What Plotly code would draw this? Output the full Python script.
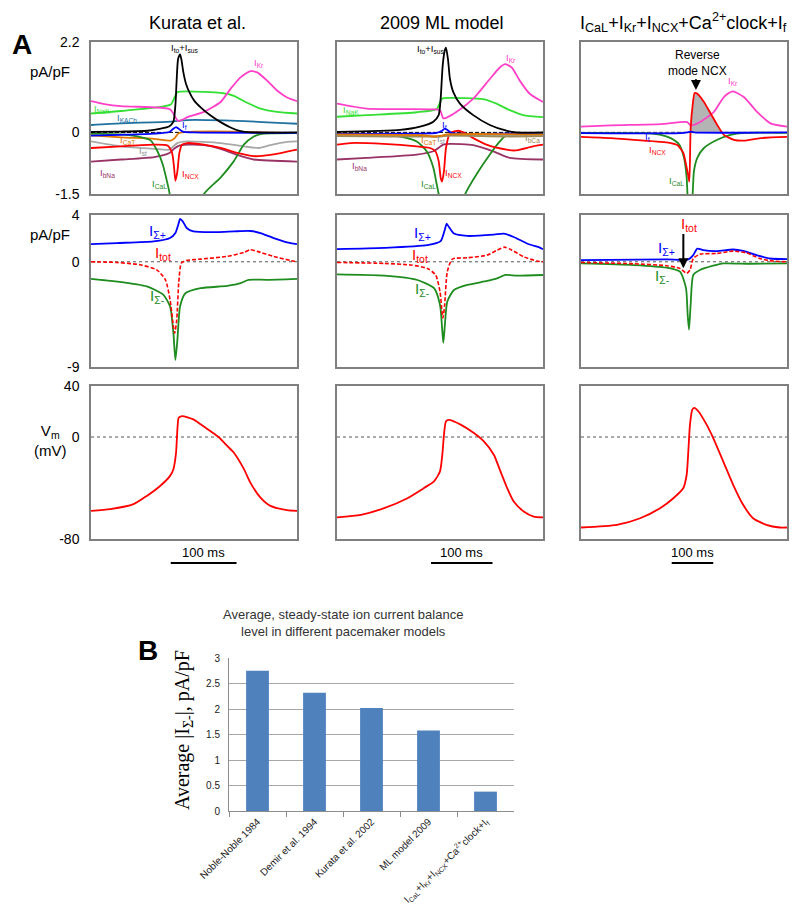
import numpy as np
import plotly.graph_objects as go

# ---------------- Panel A, row 1 : individual currents (pA/pF) ----------------
# Kurata et al.
kur_ito_t = [0, 45, 85, 105, 118, 124, 127, 129, 131, 134, 136, 139, 143, 148, 155, 165, 180, 195, 210, 225, 240, 310]
kur_ito_v = [0.01, 0.02, 0.04, 0.09, 0.15, 0.26, 0.66, 1.30, 1.78, 1.90, 1.78, 1.46, 1.18, 0.98, 0.78, 0.61, 0.41, 0.25, 0.12, 0.03, 0.0, 0.0]
kur_kr_t = [0, 20, 45, 95, 118, 124, 128, 131, 138, 145, 170, 195, 210, 225, 240, 250, 265, 280, 295, 310]
kur_kr_v = [0.76, 0.69, 0.64, 0.61, 0.57, 0.46, 0.34, 0.28, 0.31, 0.37, 0.50, 0.74, 1.06, 1.34, 1.49, 1.46, 1.26, 1.02, 0.85, 0.76]
kur_nak_t = [0, 45, 95, 120, 126, 130, 145, 195, 215, 235, 255, 280, 310]
kur_nak_v = [0.46, 0.52, 0.60, 0.68, 0.86, 0.98, 1.00, 0.96, 0.89, 0.72, 0.58, 0.50, 0.46]
kur_kach_t = [0, 45, 120, 145, 220, 310]
kur_kach_v = [0.18, 0.22, 0.26, 0.30, 0.28, 0.21]
kur_if_t = [0, 45, 95, 118, 124, 128, 131, 138, 155, 310]
kur_if_v = [-0.08, -0.06, -0.03, 0.01, 0.09, 0.13, 0.10, 0.02, 0.0, -0.01]
kur_cat_t = [0, 45, 95, 120, 126, 132, 310]
kur_cat_v = [-0.07, -0.12, -0.16, -0.20, -0.14, -0.02, -0.02]
kur_st_t = [0, 45, 95, 118, 124, 130, 145, 195, 230, 253, 270, 295, 310]
kur_st_v = [-0.22, -0.34, -0.40, -0.42, -0.34, -0.26, -0.22, -0.26, -0.34, -0.38, -0.31, -0.23, -0.22]
kur_ncx_t = [0, 45, 95, 115, 122, 125, 127, 130, 133, 137, 145, 170, 195, 220, 245, 270, 310]
kur_ncx_v = [-0.38, -0.34, -0.30, -0.32, -0.50, -0.85, -1.18, -0.95, -0.50, -0.30, -0.26, -0.30, -0.38, -0.50, -0.58, -0.55, -0.42]
kur_bna_t = [0, 45, 95, 118, 125, 132, 145, 170, 195, 220, 245, 310]
kur_bna_v = [-0.71, -0.66, -0.60, -0.50, -0.40, -0.33, -0.30, -0.31, -0.40, -0.55, -0.66, -0.71]
kur_cal_t = [0, 45, 70, 90, 100, 108, 113, 118, 125, 145, 160, 170, 195, 215, 230, 245, 255, 310]
kur_cal_v = [-0.03, -0.05, -0.10, -0.20, -0.46, -0.78, -1.10, -1.46, -2.5, -3.0, -2.2, -1.5, -1.10, -0.70, -0.30, -0.10, -0.04, -0.02]

# 2009 ML model
ml_ito_t = [0, 95, 125, 145, 153, 156, 159, 162, 164, 167, 170, 175, 185, 205, 230, 255, 270, 310]
ml_ito_v = [0.01, 0.06, 0.14, 0.26, 0.42, 0.82, 1.62, 1.98, 2.06, 1.78, 1.30, 0.98, 0.70, 0.42, 0.18, 0.04, 0.0, 0.0]
ml_kr_t = [0, 45, 145, 155, 160, 165, 180, 205, 230, 245, 253, 263, 275, 290, 310]
ml_kr_v = [0.70, 0.58, 0.56, 0.54, 0.34, 0.36, 0.50, 0.82, 1.30, 1.58, 1.66, 1.58, 1.26, 0.94, 0.74]
ml_nak_t = [0, 45, 120, 150, 158, 170, 220, 240, 260, 280, 310]
ml_nak_v = [0.38, 0.42, 0.49, 0.57, 0.82, 0.84, 0.81, 0.70, 0.54, 0.42, 0.37]
ml_if_t = [0, 100, 150, 158, 162, 166, 172, 310]
ml_if_v = [-0.04, -0.03, -0.01, 0.04, 0.09, 0.06, -0.01, -0.01]
ml_cat_t = [0, 130, 145, 158, 165, 310]
ml_cat_v = [-0.05, -0.07, -0.10, -0.08, -0.05, -0.05]
ml_st_t = [0, 130, 150, 160, 170, 310]
ml_st_v = [-0.07, -0.08, -0.11, -0.09, -0.07, -0.07]
ml_bca_t = [0, 150, 170, 250, 310]
ml_bca_v = [-0.09, -0.10, -0.08, -0.10, -0.09]
ml_ncx_t = [0, 20, 70, 120, 140, 148, 153, 156, 158, 161, 164, 170, 183, 190, 205, 225, 255, 268, 295, 310]
ml_ncx_v = [-0.30, -0.26, -0.28, -0.34, -0.38, -0.46, -0.70, -1.10, -1.20, -0.94, -0.38, -0.02, 0.04, 0.0, -0.14, -0.30, -0.42, -0.44, -0.34, -0.30]
ml_bna_t = [0, 45, 120, 145, 160, 170, 205, 235, 260, 310]
ml_bna_v = [-0.66, -0.62, -0.54, -0.46, -0.30, -0.28, -0.31, -0.46, -0.62, -0.66]
ml_cal_t = [0, 95, 120, 135, 145, 150, 153, 165, 180, 193, 210, 230, 245, 255, 310]
ml_cal_v = [-0.06, -0.10, -0.22, -0.46, -0.86, -1.26, -1.5, -2.5, -2.2, -1.50, -1.02, -0.54, -0.22, -0.07, -0.03]

# ICaL+IKr+INCX+Ca2+clock+If model
cl_kr_t = [0, 45, 120, 160, 165, 180, 200, 215, 228, 245, 265, 285, 310]
cl_kr_v = [0.14, 0.17, 0.20, 0.25, 0.17, 0.26, 0.50, 0.86, 1.00, 0.86, 0.50, 0.22, 0.14]
cl_ncx_t = [0, 45, 95, 135, 145, 154, 158, 161, 163, 165, 168, 171, 175, 185, 195, 205, 215, 230, 245, 270, 310]
cl_ncx_v = [-0.11, -0.14, -0.20, -0.26, -0.31, -0.50, -0.78, -1.02, -1.20, 0.10, 0.66, 0.96, 0.94, 0.74, 0.46, 0.18, -0.06, -0.18, -0.20, -0.14, -0.11]
cl_cal_t = [0, 95, 120, 135, 148, 155, 159, 163, 168, 170, 175, 185, 205, 225, 245, 310]
cl_cal_v = [-0.01, -0.02, -0.06, -0.14, -0.30, -0.62, -1.10, -2.5, -1.5, -0.94, -0.62, -0.38, -0.18, -0.06, -0.01, -0.01]
cl_if_t = [0, 150, 160, 165, 170, 310]
cl_if_v = [-0.02, -0.02, 0.0, 0.02, 0.0, 0.0]

# ---------------- Panel A, row 2 : summed currents (pA/pF) ----------------
kur_sp_t = [0, 39, 94, 119, 127, 132, 134, 138, 144, 154, 190, 215, 240, 255, 275, 295, 310]
kur_sp_v = [1.51, 1.60, 1.74, 2.03, 2.46, 3.31, 3.66, 3.46, 2.89, 2.60, 2.54, 2.60, 2.63, 2.46, 2.03, 1.66, 1.51]
kur_tot_t = [0, 39, 74, 99, 112, 119, 124, 126, 129, 132, 136, 144, 165, 205, 230, 240, 250, 275, 300, 310]
kur_tot_v = [0, -0.06, -0.26, -0.69, -1.54, -3.26, -5.54, -6.1, -4.97, -1.83, -0.11, 0.11, 0.23, 0.46, 0.80, 1.03, 0.89, 0.46, 0.11, 0]
kur_sm_t = [0, 39, 84, 109, 119, 124, 127, 130, 134, 142, 165, 205, 225, 237, 265, 310]
kur_sm_v = [-1.46, -1.69, -2.11, -2.83, -3.83, -6.11, -8.4, -6.69, -3.83, -2.69, -2.26, -2.06, -1.83, -1.54, -1.54, -1.46]

ml_sp_t = [0, 71, 136, 156, 162, 165, 168.5, 176, 196, 236, 251, 266, 286, 306, 310]
ml_sp_v = [1.08, 1.19, 1.42, 1.76, 2.69, 3.25, 2.97, 2.41, 2.21, 2.32, 2.41, 2.12, 1.56, 1.19, 1.08]
ml_tot_t = [0, 71, 111, 136, 148.5, 155, 158, 159.5, 162, 166, 173.5, 196, 226, 241, 252, 263.5, 281, 301, 310]
ml_tot_v = [-0.06, -0.14, -0.28, -0.57, -1.13, -2.55, -4.25, -4.8, -3.68, -0.85, 0.23, 0.34, 0.57, 0.99, 1.25, 0.99, 0.42, 0.06, 0]
ml_sm_t = [0, 71, 121, 146, 155, 158.5, 160, 162, 166, 176, 196, 226, 241, 253.5, 271, 310]
ml_sm_v = [-1.08, -1.19, -1.56, -2.26, -3.68, -5.95, -6.93, -5.66, -3.40, -2.41, -1.98, -1.64, -1.42, -1.13, -1.19, -1.13]

cl_sp_t = [0, 129, 161.5, 169, 175, 184, 204, 229, 244, 264, 284, 310]
cl_sp_v = [0.14, 0.20, 0.20, 0.57, 1.13, 0.99, 0.91, 1.05, 0.93, 0.57, 0.28, 0.23]
cl_tot_t = [0, 79, 129, 149, 159, 164, 169, 179, 204, 229, 249, 269, 289, 310]
cl_tot_v = [-0.06, -0.17, -0.34, -0.57, -0.99, -0.71, 0.28, 0.65, 0.71, 0.91, 0.76, 0.28, 0.06, 0]
cl_sm_t = [0, 79, 129, 149, 158, 160.5, 162.5, 165, 169, 179, 199, 214, 254, 310]
cl_sm_v = [-0.14, -0.28, -0.51, -0.85, -2.26, -4.5, -5.8, -3.68, -1.13, -0.71, -0.34, -0.14, -0.17, -0.14]

# ---------------- Panel A, row 3 : membrane potential (mV) ----------------
kur_vm_t = [0, 29, 64, 84, 104, 119, 124, 128, 130, 132, 137, 154, 165, 180, 192, 205, 215, 230, 240, 255, 270, 295, 310]
kur_vm_v = [-58, -56.6, -52.7, -46.2, -38.4, -30.5, -25.3, -12.3, 6, 15.1, 16.4, 13.8, 10, 4.5, 0, -7, -12.3, -25, -36, -47.5, -54, -57.4, -58]
ml_vm_t = [0, 36, 71, 106, 131, 146, 155, 158.5, 161, 164, 168.5, 186, 206, 221, 236, 246, 256, 266, 281, 296, 310]
ml_vm_v = [-63, -61, -55.8, -48, -40, -34.8, -27, -13.9, 1.8, 12.3, 13.4, 9.7, 3.1, -3.4, -13.9, -27, -40, -50.6, -58.4, -62.4, -63]
cl_vm_t = [0, 54, 89, 119, 139, 154, 159, 161.5, 164, 167.5, 170.5, 176.5, 189, 199, 214, 229, 244, 259, 279, 299, 310]
cl_vm_v = [-71, -68.9, -63.7, -55.8, -48, -40, -29.6, -11.3, 9.7, 21.5, 22.8, 20.2, 9.7, -0.8, -19.1, -37.5, -53.2, -63.7, -68.9, -71, -71]

# 100 ms scale bars (start, end in each column's time units)
scalebar_start = [120, 141.5, 136.5]
scalebar_end = [219, 234, 199]

col_titles = ["Kurata et al.", "2009 ML model",
              "I<sub>CaL</sub>+I<sub>Kr</sub>+I<sub>NCX</sub>+Ca<sup>2+</sup>clock+I<sub>f</sub>"]
row_ranges = [[-1.5, 2.2], [-9, 4], [-80, 40]]
row_ticks = [[-1.5, 0, 2.2], [-9, 0, 4], [-80, 0, 40]]

# ---------------- Panel B : bar chart ----------------
models = ["Noble-Noble 1984", "Demir et al. 1994", "Kurata et al. 2002", "ML model 2009",
          "I<sub>CaL</sub>+I<sub>Kr</sub>+I<sub>NCX</sub>+Ca<sup>2+</sup>clock+I<sub>f</sub>"]
avg_isum_minus = [2.75, 2.32, 2.02, 1.58, 0.38]

# ---------------- colours ----------------
C_BLACK = "#000000"
C_KR = "#ff40c8"
C_NAK = "#33e033"
C_KACH = "#1f72a0"
C_IF = "#0000ff"
C_CAT = "#e07800"
C_ST = "#a8a8a8"
C_NCX = "#ff0000"
C_BNA = "#993366"
C_CAL = "#1e8c1e"
C_BCA = "#9c8a5a"

W, H = 800, 919
colx = [(91, 297), (337, 543), (581, 787)]
rowy = [(42, 194), (215, 367), (386, 539)]
FONT = "Liberation Sans, Arial, sans-serif"

fig = go.Figure()
layout = dict(width=W, height=H, margin=dict(l=0, r=0, t=0, b=0, autoexpand=False),
              paper_bgcolor="white", plot_bgcolor="white", showlegend=False,
              font=dict(family=FONT, color="#000000"))


def axn(r, c):
    return r * 3 + c + 1


def xref(n):
    return "x" if n == 1 else f"x{n}"


def yref(n):
    return "y" if n == 1 else f"y{n}"


for r in range(3):
    for c in range(3):
        n = axn(r, c)
        xk = "xaxis" if n == 1 else f"xaxis{n}"
        yk = "yaxis" if n == 1 else f"yaxis{n}"
        layout[xk] = dict(domain=[colx[c][0] / W, colx[c][1] / W], range=[0, 310],
                          showticklabels=False, showgrid=False, zeroline=False,
                          showline=True, mirror=True, linecolor="#7f7f7f", linewidth=1.5,
                          ticks="", anchor=yref(n), fixedrange=True, automargin=False)
        ya = dict(domain=[1 - rowy[r][1] / H, 1 - rowy[r][0] / H], range=row_ranges[r],
                  showgrid=False, zeroline=False, showline=True, mirror=True,
                  linecolor="#7f7f7f", linewidth=1.5, anchor=xref(n), fixedrange=True,
                  automargin=False)
        if c == 0:
            ya.update(tickvals=row_ticks[r], ticktext=[f"{v:g}" for v in row_ticks[r]],
                      ticks="", tickfont=dict(size=14, family=FONT), ticklabelstandoff=7)
        else:
            ya.update(showticklabels=False, ticks="")
        layout[yk] = ya

layout["xaxis10"] = dict(domain=[229 / W, 514 / W], anchor="y10", type="category",
                         showline=True, linecolor="#8c8c8c", linewidth=1,
                         ticks="outside", tickson="boundaries", ticklen=5, tickcolor="#8c8c8c",
                         tickangle=-45, tickfont=dict(size=10, family=FONT, color="#222"),
                         showgrid=False, fixedrange=True, automargin=False)
layout["yaxis10"] = dict(domain=[1 - 811 / H, 1 - 658 / H], anchor="x10", range=[0, 3],
                         tickvals=[0, 0.5, 1, 1.5, 2, 2.5, 3],
                         ticktext=["0", "0.5", "1", "1.5", "2", "2.5", "3"],
                         showgrid=True, gridcolor="#a6a6a6", gridwidth=1,
                         showline=True, linecolor="#8c8c8c", linewidth=1, zeroline=False,
                         ticks="", tickfont=dict(size=10, family=FONT, color="#222"),
                         ticklabelstandoff=6, fixedrange=True, automargin=False)


def add_line(n, t, v, color, width=1.8, dash="solid", smooth=0.6):
    fig.add_trace(go.Scatter(x=t, y=v, mode="lines", xaxis=xref(n), yaxis=yref(n),
                             line=dict(color=color, width=width, dash=dash,
                                       shape="spline", smoothing=smooth),
                             hoverinfo="skip", showlegend=False))


annotations = []
shapes = []


def lab(n, t, v, text, color, size=9.5, xanchor="center"):
    annotations.append(dict(x=t, y=v, xref=xref(n), yref=yref(n), text=text, showarrow=False,
                            font=dict(size=size, color=color, family=FONT), xanchor=xanchor,
                            yanchor="middle"))


# zero reference lines
for c in range(3):
    shapes.append(dict(type="line", xref=f"{xref(axn(0, c))} domain", x0=0, x1=1,
                       yref=yref(axn(0, c)), y0=0, y1=0, layer="below",
                       line=dict(color="#000000", width=1, dash="4px,2px")))
    for r in (1, 2):
        shapes.append(dict(type="line", xref=f"{xref(axn(r, c))} domain", x0=0, x1=1,
                           yref=yref(axn(r, c)), y0=0, y1=0, layer="below",
                           line=dict(color="#555555", width=1, dash="dot")))

# Row 1, col 1 (Kurata)
n = axn(0, 0)
for t, v, col in [(kur_kach_t, kur_kach_v, C_KACH), (kur_nak_t, kur_nak_v, C_NAK),
                  (kur_kr_t, kur_kr_v, C_KR), (kur_st_t, kur_st_v, C_ST),
                  (kur_bna_t, kur_bna_v, C_BNA), (kur_cat_t, kur_cat_v, C_CAT),
                  (kur_cal_t, kur_cal_v, C_CAL), (kur_ncx_t, kur_ncx_v, C_NCX),
                  (kur_if_t, kur_if_v, C_IF), (kur_ito_t, kur_ito_v, C_BLACK)]:
    add_line(n, t, v, col)
lab(n, 140, 2.06, "I<sub>to</sub>+I<sub>sus</sub>", C_BLACK)
lab(n, 253, 1.70, "I<sub>Kr</sub>", C_KR)
lab(n, 2, 0.57, "I<sub>NaK</sub>", C_NAK, xanchor="left")
lab(n, 36, 0.36, "I<sub>KACh</sub>", C_KACH, xanchor="left")
lab(n, 140, 0.17, "I<sub>f</sub>", C_IF)
lab(n, 40, -0.18, "I<sub>CaT</sub>", C_CAT, xanchor="left")
lab(n, 78, -0.46, "I<sub>st</sub>", "#909090")
lab(n, 10, -0.98, "I<sub>bNa</sub>", C_BNA, xanchor="left")
lab(n, 103, -1.26, "I<sub>CaL</sub>", C_CAL)
lab(n, 150, -1.02, "I<sub>NCX</sub>", C_NCX)

# Row 1, col 2 (ML)
n = axn(0, 1)
for t, v, col in [(ml_nak_t, ml_nak_v, C_NAK), (ml_kr_t, ml_kr_v, C_KR),
                  (ml_bna_t, ml_bna_v, C_BNA), (ml_cal_t, ml_cal_v, C_CAL),
                  (ml_ncx_t, ml_ncx_v, C_NCX), (ml_st_t, ml_st_v, C_ST),
                  (ml_bca_t, ml_bca_v, C_BCA), (ml_if_t, ml_if_v, C_IF),
                  (ml_cat_t, ml_cat_v, C_CAT), (ml_ito_t, ml_ito_v, C_BLACK)]:
    add_line(n, t, v, col)
lab(n, 141, 2.03, "I<sub>to</sub>+I<sub>sus</sub>", C_BLACK)
lab(n, 262, 1.81, "I<sub>Kr</sub>", C_KR)
lab(n, 6, 0.55, "I<sub>NaK</sub>", C_NAK, xanchor="left")
lab(n, 162, 0.18, "I<sub>f</sub>", C_IF)
lab(n, 138, -0.19, "I<sub>CaT</sub>", C_CAT)
lab(n, 156, -0.17, "I<sub>st</sub>", "#909090")
lab(n, 309, -0.13, "I<sub>bCa</sub>", C_BCA, xanchor="right")
lab(n, 20, -0.82, "I<sub>bNa</sub>", C_BNA, xanchor="left")
lab(n, 175, -1.00, "I<sub>NCX</sub>", C_NCX)
lab(n, 138, -1.26, "I<sub>CaL</sub>", C_CAL)

# Row 1, col 3 (clock model)
n = axn(0, 2)
ft = np.linspace(cl_ncx_t[0], cl_ncx_t[-1], 3000)
fv = np.interp(ft, cl_ncx_t, cl_ncx_v)
fig.add_trace(go.Scatter(x=ft, y=np.clip(fv, 0, None), mode="lines", xaxis=xref(n), yaxis=yref(n),
                         line=dict(width=0, color="rgba(0,0,0,0)"), fill="tozeroy",
                         fillcolor="#b4b4b4", hoverinfo="skip", showlegend=False))
for t, v, col in [(cl_kr_t, cl_kr_v, C_KR), (cl_cal_t, cl_cal_v, C_CAL),
                  (cl_ncx_t, cl_ncx_v, C_NCX), (cl_if_t, cl_if_v, C_IF)]:
    add_line(n, t, v, col)
annotations.append(dict(x=176, y=1.70, xref=xref(n), yref=yref(n), text="Reverse<br>mode NCX",
                        showarrow=False, font=dict(size=12, family=FONT, color="#000"),
                        xanchor="center", yanchor="middle"))
annotations.append(dict(x=173, y=1.03, ax=173, ay=1.33, xref=xref(n), yref=yref(n),
                        axref=xref(n), ayref=yref(n), text="", showarrow=True,
                        arrowhead=2, arrowsize=1, arrowwidth=2, arrowcolor="#000"))
lab(n, 228, 1.26, "I<sub>Kr</sub>", C_KR)
lab(n, 115, -0.42, "I<sub>NCX</sub>", C_NCX)
lab(n, 143, -1.18, "I<sub>CaL</sub>", C_CAL)
lab(n, 100, -0.12, "I<sub>f</sub>", C_IF)

# Row 2
row2 = [(kur_sp_t, kur_sp_v, kur_tot_t, kur_tot_v, kur_sm_t, kur_sm_v),
        (ml_sp_t, ml_sp_v, ml_tot_t, ml_tot_v, ml_sm_t, ml_sm_v),
        (cl_sp_t, cl_sp_v, cl_tot_t, cl_tot_v, cl_sm_t, cl_sm_v)]
for c, (spt, spv, tot_t, tot_v, smt, smv) in enumerate(row2):
    n = axn(1, c)
    add_line(n, smt, smv, C_CAL, width=1.8)
    add_line(n, spt, spv, C_IF, width=1.8)
    add_line(n, tot_t, tot_v, C_NCX, width=1.6, dash="4px,2px")

n = axn(1, 0)
lab(n, 100, 2.6, "I<sub>Σ+</sub>", C_IF, size=15)
lab(n, 108, 0.75, "I<sub>tot</sub>", C_NCX, size=15)
lab(n, 100, -3.0, "I<sub>Σ-</sub>", C_CAL, size=15)
n = axn(1, 1)
lab(n, 128, 2.4, "I<sub>Σ+</sub>", C_IF, size=15)
lab(n, 125, 0.5, "I<sub>tot</sub>", C_NCX, size=15)
lab(n, 128, -2.4, "I<sub>Σ-</sub>", C_CAL, size=15)
n = axn(1, 2)
lab(n, 128, 1.15, "I<sub>Σ+</sub>", C_IF, size=15)
lab(n, 162, 3.2, "I<sub>tot</sub>", C_NCX, size=15)
lab(n, 123, -1.3, "I<sub>Σ-</sub>", C_CAL, size=15)
annotations.append(dict(x=154, y=-0.55, ax=154, ay=2.5, xref=xref(n), yref=yref(n),
                        axref=xref(n), ayref=yref(n), text="", showarrow=True,
                        arrowhead=2, arrowsize=1, arrowwidth=2, arrowcolor="#000"))

# Row 3
for c, (t, v) in enumerate([(kur_vm_t, kur_vm_v), (ml_vm_t, ml_vm_v), (cl_vm_t, cl_vm_v)]):
    n = axn(2, c)
    add_line(n, t, v, C_NCX, width=1.8)
    shapes.append(dict(type="line", xref=xref(n), x0=scalebar_start[c], x1=scalebar_end[c],
                       yref="paper", y0=1 - 563 / H, y1=1 - 563 / H,
                       line=dict(color="#000", width=2)))
    annotations.append(dict(x=(scalebar_start[c] + scalebar_end[c]) / 2, y=1 - 552 / H,
                            xref=xref(n), yref="paper", text="100 ms", showarrow=False,
                            font=dict(size=13, family=FONT, color="#000"),
                            xanchor="center", yanchor="middle"))

# column titles
title_x = [197, 441, 683]
for c in range(3):
    annotations.append(dict(x=title_x[c] / W, y=1 - 23 / H, xref="paper", yref="paper",
                            text=col_titles[c], showarrow=False,
                            font=dict(size=18, family=FONT, color="#000"),
                            xanchor="center", yanchor="middle"))

# axis unit labels
for ytxt, txt in [(72, "pA/pF"), (235, "pA/pF"), (440, "V<sub>m</sub><br>(mV)")]:
    annotations.append(dict(x=50 / W, y=1 - ytxt / H, xref="paper", yref="paper", text=txt,
                            showarrow=False, font=dict(size=15, family=FONT, color="#000"),
                            xanchor="center", yanchor="middle"))

# panel letters
annotations.append(dict(x=22 / W, y=1 - 45 / H, xref="paper", yref="paper", text="<b>A</b>",
                        showarrow=False, font=dict(size=28, family=FONT, color="#000"),
                        xanchor="center", yanchor="middle"))
annotations.append(dict(x=148 / W, y=1 - 650 / H, xref="paper", yref="paper", text="<b>B</b>",
                        showarrow=False, font=dict(size=28, family=FONT, color="#000"),
                        xanchor="center", yanchor="middle"))

# Panel B
fig.add_trace(go.Bar(x=models, y=avg_isum_minus, xaxis="x10", yaxis="y10",
                     marker=dict(color="#4f81bd", line=dict(width=0)), width=0.4,
                     hoverinfo="skip", showlegend=False))
annotations.append(dict(x=343 / W, y=1 - 623 / H, xref="paper", yref="paper",
                        text="Average, steady-state ion current balance<br>level in different pacemaker models",
                        showarrow=False, font=dict(size=13, family=FONT, color="#333"),
                        xanchor="center", yanchor="middle"))
annotations.append(dict(x=183 / W, y=1 - 730 / H, xref="paper", yref="paper",
                        text="Average |I<sub>Σ-</sub>|, pA/pF", textangle=-90,
                        showarrow=False,
                        font=dict(size=20, family="Liberation Serif, Times New Roman, serif", color="#000"),
                        xanchor="center", yanchor="middle"))

layout["annotations"] = annotations
layout["shapes"] = shapes
fig.update_layout(**layout)
fig.write_html("out.html", config={"displayModeBar": False},
               post_script="document.body.style.margin='0px';document.body.style.overflow='hidden';")
